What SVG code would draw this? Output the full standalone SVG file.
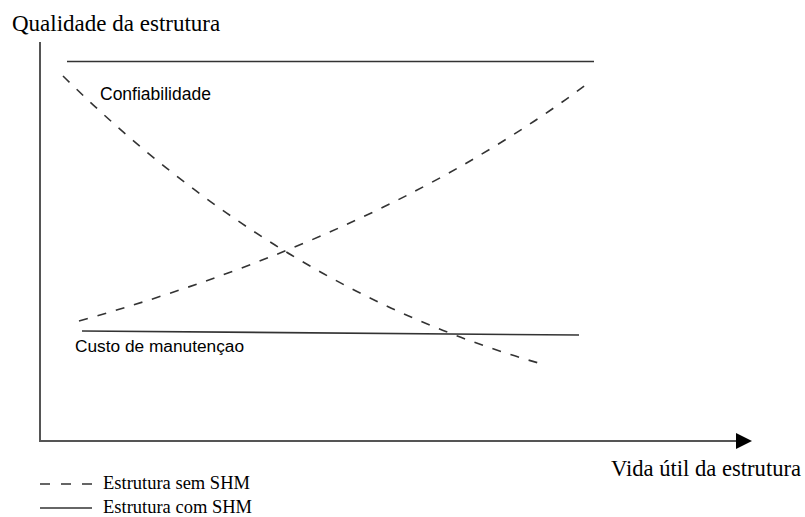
<svg xmlns="http://www.w3.org/2000/svg" width="805" height="517" viewBox="0 0 805 517">
<style>
.serif{font-family:"Liberation Serif","Times New Roman",serif;fill:#000}
.sans{font-family:"Liberation Sans",Arial,sans-serif;fill:#000}
.axis{stroke:#555;stroke-width:2;fill:none}
.solid{stroke:#333;stroke-width:1.6;fill:none}
.dash{stroke:#333;stroke-width:1.6;fill:none;stroke-dasharray:9 10}
</style>
<defs>
<marker id="arrow" markerWidth="16" markerHeight="16" refX="0" refY="8" orient="auto" markerUnits="userSpaceOnUse">
<path d="M0,0 L16,8 L0,16 Z" fill="#000"/>
</marker>
</defs>
<rect width="805" height="517" fill="#fff"/>
<g id="axes">
<text class="serif" x="12" y="31" font-size="23">Qualidade da estrutura</text>
<line class="axis" x1="40" y1="42" x2="40" y2="442"/>
<line class="axis" x1="39" y1="441" x2="736" y2="441" marker-end="url(#arrow)"/>
<text class="serif" x="611" y="476" font-size="22.6">Vida útil da estrutura</text>
</g>
<g id="connectors">
<line id="conf-shm" class="solid" x1="67" y1="61.5" x2="594" y2="61.5"/>
<path id="conf-nosh" class="dash" d="M63,76 Q280,290 542,364"/>
<path id="custo-nosh" class="dash" d="M79,321 Q385,235 587,84"/>
<line id="custo-shm" class="solid" x1="82" y1="331" x2="579" y2="335"/>
</g>
<g id="label-confiabilidade">
<text class="sans" x="100" y="100" font-size="17.5">Confiabilidade</text>
</g>
<g id="label-custo">
<text class="sans" x="75" y="352" font-size="17.3">Custo de manutençao</text>
</g>
<g id="legend">
<line class="dash" x1="40" y1="484" x2="92" y2="484" style="stroke-dasharray:10 11"/>
<text class="serif" x="103" y="489" font-size="18.5">Estrutura sem SHM</text>
<line class="solid" x1="40" y1="508" x2="92" y2="508"/>
<text class="serif" x="103" y="513" font-size="18.5">Estrutura com SHM</text>
</g>
</svg>
